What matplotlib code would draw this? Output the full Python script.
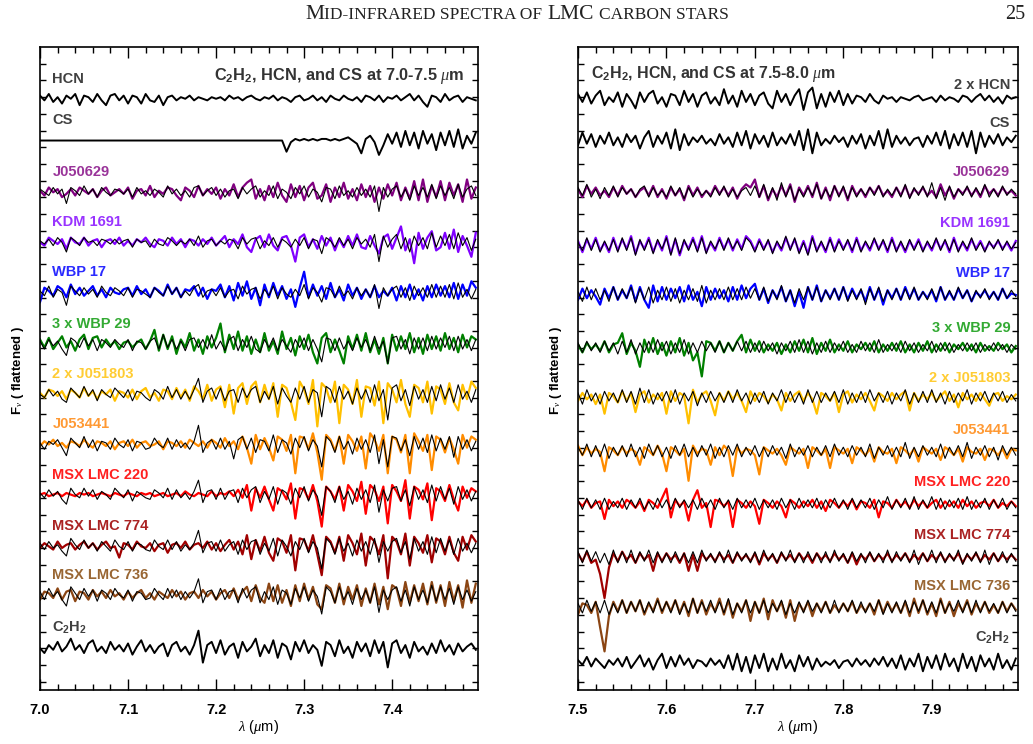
import numpy as np
import matplotlib
matplotlib.use("Agg")
import matplotlib.pyplot as plt
from matplotlib.ticker import MultipleLocator

plt.rcParams['font.family'] = ['Liberation Sans', 'DejaVu Sans']
plt.rcParams['mathtext.fontset'] = 'custom'
plt.rcParams['mathtext.rm'] = 'Liberation Sans:bold'
plt.rcParams['mathtext.bf'] = 'Liberation Sans:bold'
plt.rcParams['mathtext.it'] = 'Liberation Serif:italic'

# wavelength grids (um), one value every 0.005 um
wave_l = np.round(np.arange(100) * 0.005 + 7.0, 4)
wave_r = np.round(np.arange(100) * 0.005 + 7.5, 4)

# ---- 7.0-7.5 um panel, flattened flux deflections (positive = up) ----
hcn_l = [2,-1,3,-2,1,-3,2,0,3,-4,2,1,-2,3,-1,-4,2,3,-1,2,
         -3,2,1,-3,3,-1,-2,2,-4,1,2,-1,1,0,2,-1,1,0,-1,1,
         0,1,-1,2,0,1,-1,1,2,0,-1,1,0,2,-1,1,0,-2,1,2,
         -1,0,2,-1,1,-2,2,0,-1,2,0,-1,1,-2,2,1,-1,2,-2,1,
         0,2,-1,1,3,-1,2,-2,-5,2,1,-2,3,-1,1,2,-2,1,0,-1]
cs_l = [0] * 56 + [-7,-1,1,0,1,0,1,0,1,1,0,1,0,1,2,0,
        -2,-8,1,3,-1,-9,-3,4,-2,5,-4,6,-3,5,-5,6,-2,4,-6,5,-3,6,-4,7,-5,3,-2,5]
c2h2_l = [0,-3,2,-1,4,-2,1,6,-1,2,-3,3,5,-2,1,-3,4,-1,2,-2,
          3,-4,1,5,-2,2,-3,1,3,-5,2,4,-2,1,-4,2,11,-9,2,4,
          -3,5,-4,1,3,-6,4,-2,1,6,-5,2,-3,5,-6,3,1,-7,4,-2,
          5,-3,2,-1,-11,4,2,-5,5,-3,1,-6,4,-2,3,-5,5,-3,4,-12,
          3,5,-3,2,-6,4,-2,1,-4,3,-3,5,-2,2,-4,3,-2,1,3,-1]

j050629_obs_l = [1,-2,3,0,2,-3,-1,2,-2,3,1,-1,2,-3,1,3,-2,0,2,-1,
                 3,-4,1,2,-2,4,-3,1,-1,3,2,-2,-5,3,1,-3,4,-2,2,-1,
                 3,-4,2,-2,5,-3,3,6,8,-4,2,-5,4,-3,6,-2,-6,5,-3,4,
                 -5,3,6,-4,-2,5,-6,3,-3,6,-4,2,-5,5,-3,4,-6,3,-4,5,
                 -2,6,-5,3,-4,7,-5,8,-6,4,-3,7,-5,6,-2,5,-6,8,-4,3]
j050629_mod_l = [2,0,-2,3,-1,2,-7,3,1,-2,4,-1,2,-3,3,0,-2,2,1,-1,
                 2,-3,3,-1,1,-2,2,0,-3,4,-1,2,-2,1,-3,3,4,-2,1,3,
                 -2,2,-3,1,2,-4,3,-1,2,4,-3,1,-2,4,-4,2,0,-4,3,-1,
                 4,-3,2,0,-6,3,2,-4,4,-2,1,-3,3,-2,2,-3,4,-12,3,-3,
                 2,4,-3,2,-5,4,-2,3,-3,5,-4,4,-2,3,-4,5,-3,2,4,-2]
kdm_obs_l = [0,-2,3,1,-1,2,-4,3,0,-1,3,-2,1,2,-3,1,2,-1,3,-2,
             1,-2,2,0,3,-1,-3,2,1,-2,3,-1,2,-3,2,1,-2,2,-1,3,
             -2,1,4,-3,2,-1,5,-3,-6,2,4,-3,5,-2,-5,3,4,-2,-12,3,
             5,-3,2,-4,4,-2,3,-5,2,-3,4,-2,5,-3,-4,4,-2,-7,3,5,
             -4,3,10,-5,2,-13,6,-4,3,7,-5,-3,6,-4,8,-6,4,-2,-9,6]
kdm_mod_l = [1,-1,2,-2,3,0,-6,3,1,-2,3,0,1,-2,2,1,-1,2,-1,1,
             2,-3,2,0,1,-3,2,-1,-2,3,1,-2,1,-1,2,-2,4,-3,1,2,
             -2,1,-1,2,1,-4,3,-1,2,3,-4,1,-2,3,-3,2,0,-3,2,-2,
             3,-4,2,1,-7,3,1,-3,3,-2,2,-4,3,-1,2,-3,5,-12,4,-3,
             2,5,-4,3,-6,4,-2,3,-4,6,-3,4,-2,5,-4,6,-2,3,-5,2]
wbp17_obs_l = [-6,3,1,-2,4,2,-3,5,-1,3,-2,1,4,-2,2,-3,3,0,-1,2,
               3,-2,4,-1,2,-3,3,1,-2,5,-1,3,-3,2,1,4,-2,3,-4,2,
               1,5,-3,4,-5,6,-2,7,-4,3,-8,5,-3,6,-2,4,-4,2,-9,3,
               13,-3,5,-2,4,-4,6,-3,2,-5,5,-2,3,-4,2,-3,4,-3,1,-2,
               3,-5,4,-3,5,-4,2,-5,4,-3,5,-2,4,-3,6,-4,5,-2,7,3]
wbp17_mod_l = [1,-2,4,-3,2,0,-8,4,1,-2,3,-1,2,-3,4,0,-2,3,1,-2,
               3,-3,2,1,-1,-3,3,0,-2,4,-1,3,-3,1,-2,3,5,-3,1,2,
               -2,3,-3,1,2,-4,4,-1,2,3,-4,2,-2,4,-4,3,-1,-3,2,-2,
               5,-4,3,0,-6,3,2,-3,4,-2,1,-4,3,-2,2,-3,5,-10,3,-2,
               2,4,-3,3,-5,4,-2,3,-3,5,-3,4,-3,5,-4,6,-3,2,-4,2]
wbp29_obs_l = [3,-2,4,-3,1,5,-2,2,-4,3,6,-3,4,5,-2,3,-1,2,-3,1,
               2,-2,1,3,-3,2,9,-4,6,-3,5,-6,3,-2,7,-4,3,-6,5,-2,
               4,13,-5,6,-3,8,-4,5,-6,3,-5,7,-4,2,-6,8,-3,4,-7,5,
               -3,6,-5,-12,4,7,-5,3,-4,-12,5,-3,6,-4,7,-5,3,-6,4,-12,
               6,-4,5,-3,7,-5,4,-6,6,-3,5,-4,7,-3,4,-5,6,-2,5,3]
wbp29_mod_l = [2,-3,3,-1,2,-3,-7,4,2,-2,4,-1,3,-4,3,1,-2,3,0,-2,
               3,-4,2,1,-3,2,4,-3,6,-2,3,-3,2,-4,3,4,-2,3,-3,6,
               -3,2,-4,3,5,-4,3,-2,5,-3,-5,3,-2,4,-4,3,-1,-5,3,-2,
               4,-4,3,-3,-11,4,3,-4,4,-3,2,-4,4,-2,3,-4,5,-3,2,-12,
               4,5,-3,3,-6,4,-3,4,-4,5,-3,4,-2,5,-4,5,-3,3,-4,3]
j051803_obs_l = [1,-2,3,2,-1,2,-3,3,1,-2,4,-1,2,-3,2,0,3,-4,2,1,
                 -2,3,-3,2,4,-2,1,-4,3,2,-3,4,-2,3,-4,5,2,-3,6,-4,
                 3,5,-8,6,-12,4,7,-6,5,8,-5,6,-3,7,-14,6,4,-5,-16,8,
                 3,-6,9,-20,7,4,-5,8,-18,6,3,-6,9,-14,5,4,-7,8,-18,7,
                 3,-5,9,-6,-14,6,4,-5,8,-12,5,3,-6,7,-5,-10,6,-3,8,4]
j051803_mod_l = [0,-2,3,-1,2,-3,-5,4,1,-2,5,-1,3,-4,3,0,-2,4,1,-2,
                 3,-4,2,1,-2,-4,3,1,-3,5,-2,3,-3,2,-3,3,10,-5,2,4,
                 -3,4,-4,2,3,-5,4,-2,3,5,-5,2,-3,5,-6,4,-1,-5,4,-3,
                 5,-5,3,1,-14,5,3,-5,5,-3,2,-6,4,-3,3,-5,6,-4,3,-16,
                 4,6,-4,3,-7,5,-3,3,-5,5,-4,6,-3,4,-5,6,-3,2,-5,3]
j053441_obs_l = [-1,2,0,3,-1,1,-2,2,1,-1,3,0,-2,2,1,-1,2,-3,1,2,
                 -1,3,-2,1,2,-1,0,2,-3,2,1,-1,2,-2,3,1,-1,2,-2,3,
                 1,-2,4,-1,2,-3,5,-2,-12,6,-3,4,-2,-10,5,3,-4,6,-18,5,
                 4,-3,7,-5,-22,6,3,-4,5,-12,6,2,-4,5,-15,7,3,-4,6,-18,
                 5,3,-5,6,-18,7,2,-4,6,-16,5,3,-5,4,-3,-12,6,-2,5,3]
j053441_mod_l = [1,-3,2,0,3,-2,-7,4,1,-2,5,-2,3,-4,2,1,-3,4,0,-2,
                 3,-4,2,1,-3,-2,4,0,-2,4,-3,3,-2,1,-3,2,12,-5,1,3,
                 -3,4,-3,2,-9,3,5,-3,4,-5,3,2,-4,6,-5,3,1,-6,4,-2,
                 5,-4,3,-1,-14,5,2,-5,5,-3,2,-6,4,-3,3,-5,6,-12,3,-14,
                 5,4,-4,3,-7,5,-3,4,-5,6,-4,4,-3,5,-8,5,-3,3,-4,2]
msx220_obs_l = [0,1,-1,0,1,-1,1,0,-1,1,0,1,-1,0,1,0,-1,1,0,-1,
                1,0,-1,1,0,1,-1,0,1,-1,0,1,-1,2,0,-1,1,0,-1,2,
                -1,1,0,2,-1,3,-2,6,-10,4,-2,5,-3,-10,4,2,-3,7,-15,4,
                3,-3,6,-4,-20,5,2,-3,5,-10,6,2,-4,8,-12,6,3,-4,5,-18,
                6,2,-4,9,-15,5,3,-3,7,-16,4,2,-4,6,-3,-10,5,-2,4,2]
msx220_mod_l = [1,-2,3,-1,2,-3,-6,4,0,-2,4,-1,3,-3,2,0,-3,4,1,-2,
                3,-4,2,0,-2,-3,3,1,-2,4,-3,3,-2,1,-3,2,9,-5,2,3,
                -3,4,-3,2,3,-5,4,-2,3,5,-5,2,-3,5,-6,3,1,-6,4,-2,
                5,-4,3,-1,-13,5,2,-5,5,-3,2,-6,4,-3,3,-5,6,-11,3,-4,
                4,5,-4,3,-7,5,-3,3,-5,6,-4,5,-3,4,-6,5,-3,3,-4,2]
msx774_obs_l = [-1,2,0,-2,3,-1,1,2,-2,1,3,-1,2,-2,1,3,-1,0,-7,2,
                1,-2,3,0,-1,2,-3,1,2,-4,1,2,-1,3,-2,1,2,-1,3,-2,
                2,-3,1,4,-2,3,-5,7,-8,4,-3,6,-4,-9,5,3,-4,7,-15,5,
                4,-3,7,-5,-18,6,3,-4,6,-9,7,2,-5,8,-12,6,3,-5,7,-20,
                6,3,-5,8,-12,6,2,-4,7,-10,5,3,-5,6,-4,-9,6,-2,7,3]
msx774_mod_l = [2,-2,3,-1,1,-3,-6,5,1,-2,4,-1,2,-3,3,0,-3,4,0,-2,
                3,-3,2,1,-2,-3,4,0,-2,4,-2,3,-3,1,-2,2,10,-4,2,3,
                -3,4,-3,1,3,-5,4,-2,3,4,-5,2,-3,5,-6,4,0,-6,3,-2,
                5,-4,3,-1,-14,5,2,-5,5,-3,2,-6,4,-3,3,-5,5,-10,3,-3,
                3,5,-4,3,-8,5,-3,3,-5,6,-4,5,-3,4,-5,5,-3,2,-4,2]
msx736_obs_l = [-3,2,1,-2,4,-3,2,3,-4,2,1,-3,3,-1,2,-2,3,-1,1,-3,
                2,-2,1,3,-2,1,-3,2,0,-2,3,-1,2,-3,1,2,-2,3,-1,2,
                -3,1,3,-2,4,-3,2,5,-4,6,-2,-5,7,-4,6,-5,3,-7,6,-4,
                7,-3,5,-6,-9,6,4,-5,7,-6,5,-3,6,-7,4,-5,7,-6,5,-9,
                6,4,-7,8,-5,6,-4,7,-6,8,-5,6,-7,8,-4,6,-8,9,-5,7]
msx736_mod_l = [2,-3,4,-1,2,-3,-7,5,1,-3,4,-1,3,-4,3,1,-3,4,0,-2,
                3,-4,2,1,-3,-2,4,0,-3,4,-2,3,-3,2,-2,2,10,-5,2,3,
                -3,4,-3,2,3,-5,4,-2,3,5,-5,2,-3,5,-6,3,1,-6,4,-2,
                5,-4,3,-1,-12,5,2,-5,5,-3,2,-6,4,-3,3,-5,5,-11,3,-3,
                3,5,-4,3,-7,5,-3,3,-5,6,-4,5,-3,4,-6,5,-3,3,-4,2]

# ---- 7.5-8.0 um panel ----
hcn_r = [3,-2,4,-3,2,5,-4,1,-2,4,-5,3,-1,-6,4,-2,3,5,-3,1,
         -5,3,2,-4,5,-2,3,-5,2,4,-3,1,-4,6,-3,2,-5,5,-2,3,
         -4,2,4,-3,-6,5,-2,3,-4,2,6,-7,4,7,-6,3,-5,4,-2,5,
         -4,3,-3,2,1,-2,3,-1,-3,2,0,1,-2,1,0,-1,1,2,-1,0,
         1,-2,2,-1,1,0,-2,2,1,-2,1,3,-1,2,-2,1,-3,2,0,1]
cs_r = [-3,5,-2,4,-4,3,-2,5,-3,2,-4,4,-1,3,-5,2,6,-4,3,-2,
        5,-5,7,-6,4,-3,2,-1,3,-2,1,-3,4,-2,2,-4,5,-3,6,-5,
        4,-2,3,-4,5,-3,2,-2,4,-3,6,-6,7,-8,5,-3,1,-2,3,-1,
        2,-4,3,-2,4,-5,3,-3,6,-5,7,-4,3,-2,2,-3,1,2,-4,3,
        -2,5,-3,6,-5,4,-3,5,-4,6,-8,5,-4,3,-2,4,-3,2,-1,3]
c2h2_r = [2,-1,4,-2,3,0,-3,2,-1,3,-2,4,-3,1,5,-2,3,-4,2,6,
          -3,4,-2,5,-1,3,-3,2,1,-2,3,-1,2,-3,5,-4,6,-5,4,-6,
          5,-3,6,-5,3,-4,6,-3,2,-5,5,-2,4,-4,3,-2,1,-1,2,-3,
          1,2,-2,3,-1,2,-2,3,-1,4,-2,3,-3,5,-4,3,-2,6,-5,4,
          -3,5,-4,6,-2,3,-5,6,-3,4,-5,5,-2,3,-4,6,-3,2,-4,3]

j050629_obs_r = [2,-3,4,-1,3,-2,1,-3,3,-2,4,-1,2,-3,1,3,-2,4,-3,2,
                 -4,3,-2,2,-5,4,-2,3,-3,1,-2,4,-1,3,-2,3,-4,2,5,3,
                 8,-3,4,-5,2,-3,4,-2,5,-6,3,-2,4,-3,6,-4,3,-5,4,-2,
                 3,-5,4,-2,2,-3,3,-1,4,-2,1,-3,3,-2,4,-3,2,-1,3,-2,
                 1,-3,5,-2,3,-4,2,-1,3,-2,2,-3,4,-1,2,-2,3,-1,1,-2]
j050629_mod_r = [3,-2,5,-3,2,-4,3,-2,4,-3,3,-1,2,-3,2,4,-3,3,-2,1,
                 -3,4,-2,3,-4,3,-3,2,-2,1,-3,3,-2,4,-3,2,-3,1,3,-2,
                 4,-3,5,-4,3,-5,6,-3,4,-5,2,-3,3,-2,5,-4,2,-3,4,-3,
                 4,-4,3,-3,2,-2,3,-2,4,-3,2,-2,3,-3,5,-4,3,-2,4,-3,
                 6,-4,3,-5,4,-3,2,-2,4,-3,3,-2,5,-3,2,-3,4,-2,2,-1]
kdm_obs_r = [3,-4,4,-2,5,-3,2,-4,5,-3,4,-2,6,-5,3,-2,5,-4,3,-3,
             6,-5,4,-6,3,-2,5,-3,6,-4,2,-3,5,-2,4,-3,4,-2,6,3,
             -3,4,-2,3,-4,2,-3,5,-2,4,-4,3,-5,6,-3,2,-4,5,-3,4,
             -2,3,-4,5,-3,2,-3,4,-2,3,-4,5,-3,2,-4,3,-2,4,-3,2,
             -3,4,-2,3,-4,5,-3,2,-3,4,-2,3,-3,2,-1,3,-2,2,-3,3]
kdm_mod_r = [2,-3,5,-3,4,-4,3,-3,4,-4,5,-3,5,-6,4,-3,4,-5,4,-2,
             5,-6,5,-5,4,-3,4,-4,5,-5,3,-2,4,-3,5,-2,3,-3,5,2,
             -4,3,-3,4,-5,3,-2,6,-3,5,-5,2,-6,5,-4,3,-3,4,-4,3,
             -3,4,-3,4,-4,3,-2,5,-3,4,-3,4,-4,3,-3,4,-3,3,-4,3,
             -2,5,-3,4,-3,4,-4,3,-2,5,-3,2,-4,3,-2,4,-3,3,-2,2]
wbp17_obs_r = [-3,4,-2,3,-1,-6,4,-2,5,-3,3,-2,6,-4,5,-3,-8,6,-4,5,
               -3,4,-2,5,-4,6,-3,2,-7,5,-3,4,-2,3,-4,5,-3,6,-2,4,
               7,-3,4,-5,3,-2,5,-4,3,-7,2,-8,5,-3,6,-4,3,-2,4,-3,
               5,-3,4,-2,3,-4,5,-3,4,-6,3,-2,4,-3,5,-2,4,-3,2,-2,
               3,-4,5,-3,2,-3,4,-2,3,-4,2,-1,3,-2,2,-3,4,-2,1,0]
wbp17_mod_r = [2,-4,5,-3,4,-3,3,-4,5,-3,4,-2,5,-5,4,-3,5,-5,3,-3,
               5,-4,4,-5,3,-3,4,-4,6,-5,3,-3,4,-3,5,-3,4,-3,5,-2,
               4,-3,5,-4,3,-3,6,-4,3,-5,4,-3,5,-3,5,-4,3,-3,4,-3,
               5,-4,3,-3,4,-6,4,-3,5,-4,3,-3,4,-3,4,-3,5,-3,2,-3,
               4,-3,5,-3,3,-3,5,-2,3,-4,3,-2,4,-3,2,-3,4,-2,3,-1]
wbp29_obs_r = [2,-3,3,-1,2,-2,4,-3,2,3,9,-4,3,-2,-12,5,-3,6,-4,3,
               -5,4,-3,6,-5,3,-8,-3,-18,4,3,-2,4,-3,3,-2,4,8,-3,5,
               -2,4,-3,2,-2,3,-4,2,-3,4,-2,5,-3,6,-4,3,-2,5,-3,2,
               -2,4,-3,2,-1,3,-2,4,-3,2,-2,3,-2,4,-3,2,-3,3,-2,4,
               -3,2,-2,3,-3,2,-1,3,-2,2,-3,3,-2,1,-2,3,-1,2,-3,1]
wbp29_mod_r = [3,-3,4,-2,3,-3,4,-2,3,-4,4,-3,5,-4,3,-3,4,-3,5,-2,
               4,-4,3,-3,5,-4,3,-3,4,-2,3,-3,4,-3,3,-2,4,-2,4,-3,
               3,-3,4,-2,3,-4,3,-2,4,-3,5,-3,4,-4,3,-3,4,-3,3,-2,
               4,-3,2,-3,4,-2,3,-3,5,-3,2,-2,3,-3,4,-2,3,-3,2,-2,
               4,-3,3,-2,3,-3,2,-2,3,-2,3,-3,2,-2,3,-2,2,-3,2,-1]
j051803_obs_r = [-2,3,-1,2,-4,2,-10,3,1,-3,4,-2,3,-9,2,4,-3,2,-1,3,
                 -10,4,-2,3,1,-16,5,-3,2,4,-2,-11,3,-2,4,-1,3,-2,-9,4,
                 -2,3,1,-3,2,-1,-8,3,-2,2,4,-2,3,-1,-10,3,1,-2,3,-9,
                 2,4,-3,2,-1,3,-2,-8,3,1,-2,3,-1,2,4,-8,3,-2,2,-1,
                 3,-2,1,4,-2,2,-6,3,-1,2,-2,3,-1,-5,2,3,-2,1,-1,2]
j051803_mod_r = [3,-4,5,-2,3,-4,4,-2,3,-3,5,-3,4,-4,6,-3,5,-4,3,-2,
                 4,-3,5,-4,3,-2,4,-5,3,-3,4,-2,3,-3,4,-3,5,-2,3,-4,
                 3,-3,4,-4,3,-2,5,-3,4,-3,3,-4,5,-3,4,-3,3,-2,4,-3,
                 5,-4,3,-3,4,-3,5,-2,3,-3,4,-4,3,-2,5,-4,3,-3,4,-3,
                 5,-3,3,-4,4,-3,3,-2,5,-4,3,-2,4,-3,3,-2,4,-3,2,-2]
j053441_obs_r = [4,-2,3,-1,2,0,-12,3,1,-2,3,-1,2,0,-8,3,1,-2,4,-1,
                 -12,3,1,-2,2,-18,4,-1,2,1,-8,3,-2,4,1,-15,3,-1,2,1,
                 -2,-14,3,1,-1,2,-2,-8,3,1,-1,2,-10,3,1,-2,2,-10,3,1,
                 -1,2,-7,3,1,-2,2,-6,3,0,-1,2,-7,3,1,-2,2,-6,3,1,
                 -1,2,-5,3,1,-2,2,-6,3,0,-1,2,-5,2,1,-2,2,-4,2,1]
j053441_mod_r = [3,-2,5,-3,4,-3,5,-4,3,-2,4,-3,5,-3,3,-4,5,-2,4,-3,
                 3,-4,4,-2,5,-3,3,-3,4,-2,5,-4,3,-3,4,-2,5,-3,3,-2,
                 4,-3,3,-3,4,-2,3,-4,5,-3,3,-2,4,-3,3,-2,4,-3,5,-2,
                 3,-3,4,-2,3,-3,5,-4,3,-2,4,-3,3,-3,6,-4,3,-3,4,-2,
                 3,-3,5,-4,3,-2,4,-3,6,-4,3,-2,4,-3,3,-5,4,-2,3,-2]
msx220_obs_r = [2,-1,3,-2,1,2,-9,3,-1,2,-2,3,1,-2,2,-4,3,1,-2,4,
                10,-8,3,-1,2,-10,3,9,-2,1,-14,3,2,-1,2,-14,3,1,-2,2,
                -1,-12,3,1,-2,2,-1,-8,3,1,-2,2,-1,3,-2,2,-4,3,1,-2,
                2,-1,3,-3,2,1,-2,3,-8,2,1,-2,3,-1,2,-2,3,-1,2,-2,
                1,3,-2,2,-1,2,-2,3,-1,2,-2,1,2,-1,3,-2,1,-1,2,-1]
msx220_mod_r = [3,-3,4,-2,3,-3,4,-3,2,-2,4,-3,3,-2,4,-3,2,-3,4,-2,
                3,-3,4,-2,3,-2,3,-3,4,-2,3,-3,4,-2,3,-3,4,-2,3,-2,
                4,-3,3,-2,3,-3,4,-2,3,-3,4,-2,3,-2,4,-3,3,-2,4,-2,
                3,-3,4,-2,3,-2,4,-3,3,-2,5,-3,3,-2,4,-3,5,-3,3,-2,
                5,-3,4,-3,3,-2,4,-3,5,-3,3,-2,4,-3,3,-2,4,-3,2,-2]
msx774_obs_r = [3,-2,4,-3,-1,-10,-25,-6,3,-2,4,-1,2,-3,3,-1,2,-8,3,-2,
                3,-1,2,-3,3,-8,2,-8,3,-1,2,-2,3,-1,2,-3,3,-1,2,-2,
                3,-4,3,-1,2,-3,3,-1,2,-2,3,-1,2,-3,3,-1,2,-2,3,-1,
                2,-3,3,-4,2,-1,3,-2,2,-1,3,-2,2,-1,3,-2,2,-1,3,-2,
                2,-1,3,-2,2,-1,3,-3,2,-1,3,-2,2,-1,3,-2,2,-1,2,-1]
msx774_mod_r = [4,-3,5,-2,4,-3,3,-4,5,-3,4,-3,5,-3,4,-2,5,-3,4,-3,
                3,-3,4,-2,3,-3,4,-3,5,-2,3,-3,4,-3,5,-3,4,-2,3,-3,
                4,-3,5,-2,3,-3,4,-2,5,-3,3,-3,4,-2,3,-3,4,-3,5,-2,
                3,-3,4,-2,3,-3,4,-2,3,-3,5,-3,4,-2,3,-3,5,-4,3,-2,
                5,-3,4,-3,3,-2,5,-4,3,-2,4,-3,5,-4,3,-2,4,-3,3,-2]
msx736_obs_r = [-4,3,2,-3,4,-12,-27,-5,4,-2,5,-3,4,-2,5,-4,3,-2,6,-3,
                4,-2,5,-3,4,-5,6,-3,5,-4,3,-2,6,-4,5,-6,3,-2,5,-8,
                4,-3,6,-7,5,-2,4,-6,5,-8,3,-2,4,-5,3,-2,4,-3,2,-2,
                3,-2,4,-3,2,-2,3,-4,5,-3,4,-2,3,-3,4,-5,6,-3,5,-4,
                3,-5,6,-3,4,-5,3,-2,5,-4,3,-2,4,-3,2,-3,4,-2,3,-1]
msx736_mod_r = [3,-3,5,-2,4,-3,5,-4,3,-3,5,-3,4,-2,5,-3,4,-3,5,-2,
                4,-3,5,-4,3,-3,6,-3,4,-2,5,-3,4,-3,6,-4,3,-3,5,-3,
                4,-3,5,-3,3,-2,5,-4,3,-3,4,-3,5,-2,3,-3,4,-3,5,-3,
                3,-2,5,-3,4,-3,3,-2,5,-4,3,-3,4,-3,5,-3,4,-2,5,-3,
                4,-3,5,-3,3,-2,5,-3,4,-3,5,-3,4,-2,3,-3,4,-3,3,-2]

# star labels and colours
star_names = ['J050629', 'KDM 1691', 'WBP 17', '3 x WBP 29', '2 x J051803',
              'J053441', 'MSX LMC 220', 'MSX LMC 774', 'MSX LMC 736']
line_colors = ['#800080', '#8000ff', '#0000ff', '#008000', '#ffc000',
               '#ff8c00', '#ff0000', '#a00000', '#8b4513']
label_colors = ['#993399', '#9933ff', '#2a2aff', '#33aa33', '#ffcc33',
                '#ff9933', '#ff2020', '#aa2222', '#996633']
# vertical positions (axis units) of each row, top to bottom
offsets_l = [35.4, 32.9, 29.8, 26.8, 23.8, 20.7, 17.7, 14.7, 11.7, 8.6, 5.7, 2.5]
offsets_r = [35.4, 32.9, 29.8, 26.6, 23.65, 20.5, 17.5, 14.25, 11.1, 7.9, 4.9, 1.6]
label_dy_r = [0.85, 1.05, 1.2, 1.35, 1.3, 1.2, 1.2, 1.3, 1.35, 1.4, 1.3, 1.5]

obs_l = [j050629_obs_l, kdm_obs_l, wbp17_obs_l, wbp29_obs_l, j051803_obs_l,
         j053441_obs_l, msx220_obs_l, msx774_obs_l, msx736_obs_l]
mod_l = [j050629_mod_l, kdm_mod_l, wbp17_mod_l, wbp29_mod_l, j051803_mod_l,
         j053441_mod_l, msx220_mod_l, msx774_mod_l, msx736_mod_l]
obs_r = [j050629_obs_r, kdm_obs_r, wbp17_obs_r, wbp29_obs_r, j051803_obs_r,
         j053441_obs_r, msx220_obs_r, msx774_obs_r, msx736_obs_r]
mod_r = [j050629_mod_r, kdm_mod_r, wbp17_mod_r, wbp29_mod_r, j051803_mod_r,
         j053441_mod_r, msx220_mod_r, msx774_mod_r, msx736_mod_r]

SCALE = 1.6 / 16.7  # deflection units -> axis units
TEMPLATE_COLOR = '#404040'

fig = plt.figure(figsize=(10.33, 7.44), dpi=100)
ax_l = fig.add_axes([40 / 1033, 54 / 744, 438 / 1033, 643 / 744])
ax_r = fig.add_axes([578 / 1033, 54 / 744, 440 / 1033, 643 / 744])


def draw_panel(ax, wave, offsets, hcn, cs, c2h2, obs, mod, hcn_name, right):
    rows = [(hcn_name, hcn, None), ('CS', cs, None)]
    rows += [(n, (o, m), c) for n, o, m, c in zip(star_names, obs, mod, range(9))]
    rows += [(r'C$_\mathbf{2}$H$_\mathbf{2}$', c2h2, None)]
    for k, ((name, data, ci), off) in enumerate(zip(rows, offsets)):
        if ci is None:
            ax.plot(wave, off + np.array(data) * SCALE, color='black', lw=1.4)
            col = TEMPLATE_COLOR
        else:
            o, m = data
            ax.plot(wave, off + np.array(o) * SCALE, color=line_colors[ci], lw=1.6)
            ax.plot(wave, off + np.array(m) * SCALE, color='black', lw=0.8)
            col = label_colors[ci]
        if right:
            ax.text(wave[0] + 0.4886, off + label_dy_r[k], name, color=col,
                    ha='right', va='center', fontsize=10.5, fontweight='bold')
        else:
            ax.text(wave[0] + 0.014, off + 1.2, name, color=col,
                    ha='left', va='center', fontsize=10.5, fontweight='bold')
    ax.set_xlim(wave[0], wave[0] + 0.4975)
    ax.set_ylim(0, 38.5)
    ax.xaxis.set_minor_locator(MultipleLocator(0.02))
    ax.set_yticks(np.arange(0.5, 38.5, 1.0))
    ax.set_yticklabels([])
    ax.tick_params(which='both', direction='in', top=True, right=True, width=1)
    ax.tick_params(axis='x', which='major', length=8, pad=9, labelsize=10.5)
    ax.tick_params(axis='x', which='minor', length=4)
    ax.tick_params(axis='y', length=4.5)
    ticks = np.round(np.arange(wave[0], wave[0] + 0.45, 0.1), 1)
    ax.set_xticks(ticks)
    ax.set_xticklabels(['%.1f' % v for v in ticks], fontweight='bold')
    ax.set_xlabel(r'$\lambda$ ($\mu$m)', fontsize=10.5, labelpad=1)
    for s in ax.spines.values():
        s.set_linewidth(1.2)


draw_panel(ax_l, wave_l, offsets_l, hcn_l, cs_l, c2h2_l, obs_l, mod_l, 'HCN', False)
draw_panel(ax_r, wave_r, offsets_r, hcn_r, cs_r, c2h2_r, obs_r, mod_r, '2 x HCN', True)

ax_l.text(0.97, 0.955, r'C$_\mathbf{2}$H$_\mathbf{2}$, HCN, and CS at 7.0-7.5 $\mu$m',
          transform=ax_l.transAxes, ha='right', va='center', fontsize=11.8,
          fontweight='bold', color='#333333')
ax_r.text(0.03, 0.958, r'C$_\mathbf{2}$H$_\mathbf{2}$, HCN, and CS at 7.5-8.0 $\mu$m',
          transform=ax_r.transAxes, ha='left', va='center', fontsize=11.5,
          fontweight='bold', color='#333333')

for xp in (18, 556):
    fig.text(xp / 1033, 1 - 370 / 744, r'F$_\nu$ ( flattened )', rotation=90,
             ha='center', va='center', fontsize=9.5, fontweight='bold')

# running header in small caps: pieces laid side by side, then centred
renderer = fig.canvas.get_renderer()
header = [('M', 15.5), ('ID-INFRARED SPECTRA OF', 12.5), (None, 0), ('LMC', 15.5),
          (None, 0), ('CARBON STARS', 12.5)]
gap = 5.0  # px, word space
x_px = 0.0
pieces = []
for s, size in header:
    if s is None:
        x_px += gap
        continue
    t = fig.text(0, 1 - 19 / 744, s, fontsize=size, family='Liberation Serif',
                 va='baseline', ha='left', color='#222222')
    w = t.get_window_extent(renderer).width
    pieces.append((t, x_px))
    x_px += w
start = 517 - x_px / 2
for t, xo in pieces:
    t.set_x((start + xo) / 1033)
fig.text(1025 / 1033, 1 - 19 / 744, '25', ha='right', fontsize=14.5,
         family='Liberation Serif', va='baseline', color='#222222')

fig.savefig('out.png', dpi=100)
